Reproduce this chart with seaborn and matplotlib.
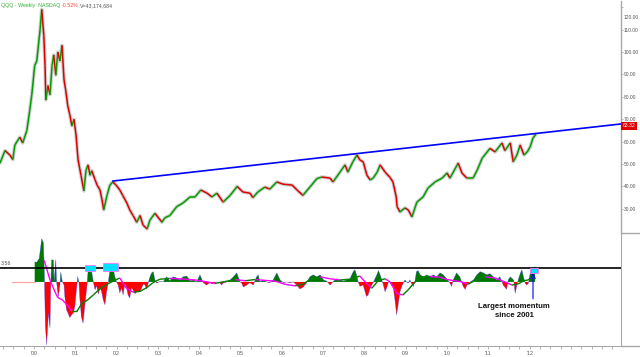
import numpy as np
import pandas as pd
import matplotlib
matplotlib.use("Agg")
import matplotlib.pyplot as plt
import seaborn as sns
from matplotlib.collections import LineCollection
from matplotlib.patches import Rectangle
from matplotlib.lines import Line2D

# QQQ weekly closes, sampled off the chart (decimal year, price)
price_year = [1999.18, 1999.30, 1999.42, 1999.49, 1999.54, 1999.66, 1999.73, 1999.83, 1999.90, 1999.95,
              2000.02, 2000.07, 2000.15, 2000.19, 2000.24, 2000.27, 2000.29, 2000.34, 2000.39, 2000.44,
              2000.48, 2000.53, 2000.58, 2000.63, 2000.68, 2000.73, 2000.77, 2000.82, 2000.87, 2000.92, 2000.97,
              2001.02, 2001.07, 2001.14, 2001.21, 2001.26, 2001.31, 2001.36, 2001.40, 2001.48, 2001.53,
              2001.60, 2001.65, 2001.69, 2001.77, 2001.84, 2001.91, 2001.99,
              2002.08, 2002.15, 2002.25, 2002.32, 2002.40, 2002.49, 2002.57, 2002.64, 2002.74, 2002.81, 2002.93,
              2003.10, 2003.17, 2003.29, 2003.46, 2003.61, 2003.78, 2003.90,
              2004.04, 2004.19, 2004.31, 2004.43, 2004.58, 2004.75, 2004.92,
              2005.06, 2005.23, 2005.30, 2005.42, 2005.59, 2005.71, 2005.88,
              2006.03, 2006.25, 2006.37, 2006.51, 2006.68, 2006.85, 2006.97,
              2007.17, 2007.24, 2007.41, 2007.53, 2007.60, 2007.72, 2007.82, 2007.89, 2007.97,
              2008.06, 2008.14, 2008.21, 2008.31, 2008.38, 2008.50, 2008.62, 2008.69, 2008.77, 2008.79, 2008.86, 2008.98,
              2009.06, 2009.15, 2009.27, 2009.42, 2009.54, 2009.71, 2009.88,
              2010.00, 2010.07, 2010.27, 2010.36, 2010.48, 2010.63, 2010.73, 2010.85,
              2011.04, 2011.16, 2011.33, 2011.40, 2011.53, 2011.60, 2011.69, 2011.77, 2011.86, 2011.94,
              2012.01, 2012.08, 2012.15]
price_close = [50.4, 56, 54, 52, 58.5, 62, 59.4, 65, 74, 81,
               94, 96, 110, 119, 107.5, 94, 78.6, 85, 81, 94,
               98.7, 89.7, 100, 96, 103, 87.5, 83, 76, 72, 67, 70,
               63, 51.8, 45, 38, 47, 49.6, 45, 47, 43, 40.6,
               38.4, 34, 29.5, 36, 40.6, 42, 40.6,
               38.4, 36, 32.6, 29.5, 27, 24, 27, 22.8, 21, 25, 28,
               24, 26, 27, 31, 32.6, 35.3, 35.3,
               38.4, 37, 35.3, 37, 33, 36, 40,
               37.5, 37, 35, 37.5, 39.7, 38.8, 42,
               41, 40.6, 38.4, 36, 39.7, 43.5, 44.2,
               43.7, 42, 46.4, 49.6, 46.4, 51, 54, 51.8, 51,
               45, 42.9, 43.7, 46.4, 49.6, 46.4, 44, 42, 35.3, 31, 28.6, 30.4,
               29.5, 26.4, 33, 35.3, 39.3, 42, 43.7,
               46, 43.7, 50.4, 46, 43.7, 43.7, 47.3, 52.6,
               57, 55.4, 59.4, 56, 59.4, 51, 54, 58.5, 54, 55.4,
               57.6, 61.6, 63.32]

# resistance trendline (start at the early-2002 high, running to the right edge)
trend_year = [2001.91, 2014.21]
trend_price = [42.4, 67.9]

# momentum oscillator
mom_year = [2000.02, 2000.07, 2000.13, 2000.19, 2000.23, 2000.25, 2000.28, 2000.31, 2000.35, 2000.39,
            2000.41, 2000.43, 2000.47, 2000.49, 2000.53, 2000.55, 2000.59, 2000.63, 2000.65, 2000.69,
            2000.73, 2000.75, 2000.79, 2000.83, 2000.87, 2000.91, 2000.95, 2000.99, 2001.03, 2001.06,
            2001.09, 2001.11, 2001.15, 2001.19, 2001.23, 2001.28, 2001.31, 2001.36, 2001.40, 2001.44,
            2001.48, 2001.52, 2001.56, 2001.60, 2001.64, 2001.68, 2001.72, 2001.76, 2001.80, 2001.84,
            2001.88, 2001.92, 2001.96, 2002.00, 2002.04, 2002.08, 2002.12, 2002.16, 2002.20, 2002.24,
            2002.28, 2002.32, 2002.36, 2002.40, 2002.45, 2002.49, 2002.57, 2002.65, 2002.69, 2002.73,
            2002.77, 2002.81, 2002.85, 2002.89, 2002.93, 2002.97, 2003.05, 2003.13, 2003.21, 2003.29,
            2003.37, 2003.46, 2003.54, 2003.61, 2003.70, 2003.78, 2003.86, 2003.94, 2004.02, 2004.10,
            2004.18, 2004.26, 2004.34, 2004.42, 2004.50, 2004.54, 2004.58, 2004.67, 2004.75, 2004.83,
            2004.91, 2004.99, 2005.03, 2005.07, 2005.15, 2005.23, 2005.31, 2005.39, 2005.43, 2005.47,
            2005.55, 2005.63, 2005.71, 2005.79, 2005.88, 2005.96, 2006.04, 2006.12, 2006.20, 2006.28,
            2006.36, 2006.44, 2006.52, 2006.60, 2006.68, 2006.76, 2006.85, 2006.93, 2007.01, 2007.09,
            2007.17, 2007.25, 2007.33, 2007.41, 2007.49, 2007.57, 2007.65, 2007.73, 2007.77, 2007.81,
            2007.85, 2007.89, 2007.97, 2008.05, 2008.09, 2008.14, 2008.22, 2008.30, 2008.34, 2008.38,
            2008.42, 2008.46, 2008.50, 2008.54, 2008.58, 2008.62, 2008.70, 2008.74, 2008.78, 2008.82,
            2008.86, 2008.90, 2008.94, 2008.98, 2009.02, 2009.06, 2009.10, 2009.18, 2009.22, 2009.26,
            2009.30, 2009.35, 2009.43, 2009.51, 2009.59, 2009.67, 2009.75, 2009.83, 2009.91, 2009.99,
            2010.07, 2010.11, 2010.15, 2010.23, 2010.31, 2010.39, 2010.44, 2010.48, 2010.56, 2010.64,
            2010.72, 2010.80, 2010.88, 2010.96, 2011.04, 2011.12, 2011.20, 2011.28, 2011.36, 2011.44,
            2011.48, 2011.53, 2011.61, 2011.65, 2011.69, 2011.73, 2011.77, 2011.81, 2011.85, 2011.89,
            2011.93, 2011.97, 2012.01, 2012.05, 2012.09, 2012.13]
mom_value = [5.1, 5.0, 6.0, 11.0, 10.0, 3.5, -11.4, -16.0, -7.9, -11.7,
             -0.3, 5.6, 5.6, 0.0, 5.7, 0.0, -3.8, -0.8, 2.5, 0.0,
             -0.8, -3.8, -7.1, -8.0, -9.1, -8.4, -8.0, -6.3, -2.0, 1.3,
             0.0, -3.8, -8.9, -10.5, -6.3, -1.5, 2.5, 3.8, 2.5, 0.0,
             -2.0, -1.0, -3.1, -1.5, -2.5, -4.6, -5.8, -2.5, 0.0, 2.8,
             4.3, 3.5, 1.3, 0.0, -0.8, -2.8, -1.5, -3.3, -0.5, -1.3,
             -3.3, -4.1, -1.5, -2.0, -3.0, -2.5, -2.5, -0.5, -0.8, -1.8,
             -0.2, 1.3, 2.3, 2.6, 0.5, -0.3, 0.1, 0.0, 1.3, 0.3,
             1.3, 1.0, 0.5, 1.3, 1.5, 0.3, 0.5, 0.0, 1.8, -0.2,
             -0.8, -0.2, -0.5, 0.0, -0.2, -0.8, -0.3, 0.0, 0.5, 1.3,
             2.3, 0.0, -0.3, -1.3, -0.8, -0.2, -0.8, 1.3, 1.8, 0.0,
             0.5, 0.0, -0.2, 0.5, 2.3, 0.5, -0.2, 0.0, -0.2, 0.0,
             -0.8, -1.8, -1.3, -0.2, 1.3, 1.8, 1.3, 1.8, 0.5, 0.2,
             -0.8, 0.2, 0.8, 0.5, 0.2, 0.5, 0.8, 2.6, 3.1, 1.8,
             0.0, -1.1, -0.8, -3.7, -3.3, -1.5, 0.0, 1.8, 2.9, 1.8,
             0.5, -0.8, -2.5, -1.5, 0.0, 0.0, -1.5, -4.6, -8.4, -5.5,
             -2.5, -1.2, -0.3, 0.5, 0.0, -0.3, 0.5, -1.2, 0.0, 2.6,
             2.9, 1.8, 1.3, 1.8, 1.3, 1.8, 1.3, 2.3, 1.8, 0.8,
             -0.3, -1.1, 0.5, 2.3, 1.3, -1.1, -1.9, -0.8, 0.0, 0.5,
             1.8, 2.6, 2.3, 1.8, 2.1, 1.3, 0.5, 1.3, -0.8, -1.9,
             0.5, 1.3, 0.5, -2.9, -0.8, 0.8, 2.1, 3.1, 1.3, -0.3,
             -0.8, -0.3, 2.1, 3.6, 3.3, 3.9]

# smoothed signal line of the oscillator
sig_year = [2000.25, 2000.39, 2000.51, 2000.58, 2000.68, 2000.82, 2000.92, 2001.04, 2001.16, 2001.31,
            2001.45, 2001.60, 2001.77, 2001.94, 2002.08, 2002.23, 2002.40, 2002.57, 2002.74, 2002.88,
            2003.05, 2003.29, 2003.66, 2003.90, 2004.14, 2004.38, 2004.62, 2004.87, 2005.11, 2005.35,
            2005.59, 2005.84, 2006.08, 2006.32, 2006.51, 2006.68, 2006.93, 2007.17, 2007.41, 2007.65,
            2007.89, 2008.06, 2008.18, 2008.33, 2008.50, 2008.62, 2008.79, 2008.93, 2009.06, 2009.18,
            2009.35, 2009.59, 2009.83, 2010.00, 2010.19, 2010.36, 2010.51, 2010.68, 2010.92, 2011.16,
            2011.40, 2011.57, 2011.72, 2011.86, 2011.96, 2012.11]
sig_value = [5.5, 0.5, -2.5, -4.0, -4.5, -6.0, -7.5, -7.5, -5.5, -4.5,
             -3.2, -1.7, -0.6, 0.3, 1.0, -1.5, -2.6, -2.4, -1.4, -0.2,
             0.7, 0.9, 0.7, 0.5, 0.1, -0.4, 0.1, 0.6, 0.3, 0.6,
             0.4, 0.2, -0.6, -1.0, -0.6, 0.6, 1.3, 0.8, 0.5, 0.7,
             1.5, -0.5, -1.6, 0.3, 0.8, 0.0, -3.0, -3.3, -2.0, -0.5,
             1.2, 1.4, 1.2, 0.6, 0.3, 0.0, -0.6, 0.4, 1.3, 1.0,
             0.0, -0.8, -0.5, 0.3, 0.5, 1.6]

pre_year = [1999.47, 2000.02]   # flat zero stretch before the oscillator starts

threshold = 3.56
box_start = [2001.23, 2001.67, 2012.01]
box_end = [2001.48, 2002.03, 2012.20]
box_low = [2.8, 2.8, 2.3]
box_high = [4.3, 4.8, 3.56]

last_price = 63.32
price_ticks = [30, 40, 50, 60, 70, 80, 90, 100, 110, 120]
year_ticks = list(range(2000, 2013))
year_labels = ["'%02d" % (y % 100) for y in year_ticks]

UP = "#00a000"
DOWN = "#e00000"
GRID = "#a8a8a8"
TXT = "#555555"
FS = 3.5

sns.set_style("white")
plt.rcParams['font.family'] = ['Liberation Sans', 'DejaVu Sans']

W, H = 640, 357
fig = plt.figure(figsize=(6.4, 3.57), dpi=100)
ax1 = fig.add_axes([0, 1 - 233 / H, 621 / W, 232 / H])
ax2 = fig.add_axes([0, 1 - 346 / H, 621 / W, 113 / H])

xlo, xhi = 1999.18, 2014.21

# ---- price panel ----
df = pd.DataFrame({"year": price_year, "close": price_close})
sns.lineplot(data=df, x="year", y="close", ax=ax1, color="#bdbdbd", lw=2.6,
             alpha=0.7, sort=False, estimator=None)
pts = df[["year", "close"]].to_numpy()
segs = np.stack([pts[:-1], pts[1:]], axis=1)
cols = np.where(np.diff(pts[:, 1]) >= 0, UP, DOWN)
ax1.add_collection(LineCollection(segs, colors=cols, linewidths=1.1, zorder=3))

sns.lineplot(x=trend_year, y=trend_price, ax=ax1, color="#0000ff", lw=1.2, zorder=4)

ax1.set_xlim(xlo, xhi)
ax1.set_ylim(19.2, 122.8)
ax1.set_xticks([])
ax1.set_xlabel("")
ax1.set_ylabel("")
ax1.yaxis.tick_right()
ax1.set_yticks(price_ticks)
# top label is nudged down by the charting package, drawn separately below
ax1.set_yticklabels(["%.2f" % t for t in price_ticks[:-1]] + [""])
ax1.tick_params(axis="y", labelsize=FS, labelcolor=TXT, color=GRID, length=1.5,
                width=0.6, pad=0.6, right=True)
ax1.annotate("%.2f" % price_ticks[-1], xy=(1, price_ticks[-1]),
             xycoords=("axes fraction", "data"), xytext=(1.6, -7.2),
             textcoords="offset points", ha="left", va="center",
             fontsize=FS, color=TXT)
for s in ["top", "left", "bottom"]:
    ax1.spines[s].set_visible(False)
ax1.spines["right"].set_color(GRID)
ax1.spines["right"].set_linewidth(1.0)

ax1.annotate("%.2f" % last_price, xy=(1, 67.0), xycoords=("axes fraction", "data"),
             xytext=(1.0, 0), textcoords="offset points", ha="left", va="center",
             fontsize=3.7, color="white",
             bbox=dict(boxstyle="square,pad=0.25", fc="#e00000", ec="none"))

# header
ty = 1 - 5.5 / H
fig.text(1 / W, ty, "QQQ - Weekly  NASDAQ", fontsize=3.8, color="#33b033", va="center")
fig.text(62 / W, ty, "-0.52%", fontsize=3.8, color="#ff4040", va="center")
fig.text(80 / W, ty, "V=43,174,684", fontsize=3.8, color=TXT, va="center")

# ---- oscillator panel ----
mv = np.array(mom_value)
ax2.fill_between(mom_year, mv, 0, where=mv >= 0, interpolate=True, color="#007800", lw=0)
ax2.fill_between(mom_year, mv, 0, where=mv <= 0, interpolate=True, color="#ff0000", lw=0)
ax2.plot(mom_year, mv, color="#3030ff", lw=0.35, alpha=0.6)
ax2.plot(pre_year, [0, 0], color="#ffa0a0", lw=0.8)

sp = np.column_stack([sig_year, sig_value])
sseg = np.stack([sp[:-1], sp[1:]], axis=1)
scol = np.where(np.diff(sp[:, 1]) >= 0, "#008000", "#ff00ff")
ax2.add_collection(LineCollection(sseg, colors=scol, linewidths=1.0, zorder=3))

ax2.axhline(threshold, color="black", lw=1.2, zorder=4)
ax2.text(1 / W * (xhi - xlo) + xlo, threshold + 0.4, "%.2f" % threshold,
         fontsize=3.8, color=TXT, va="bottom", ha="left")

for b0, b1, lo, hi in zip(box_start, box_end, box_low, box_high):
    ax2.add_patch(Rectangle((b0, lo), b1 - b0, hi - lo, fc="#00e0ff", ec="#ff70ff",
                            lw=0.6, zorder=5))

ax2.annotate("", xy=(2012.08, 3.0), xytext=(2012.08, -5.0),
             arrowprops=dict(arrowstyle="->", color="#0000ff", lw=0.8,
                             mutation_scale=8))
ax2.text(2011.62, -7.4, "Largest momentum\nsince 2001", fontsize=5.6, fontweight="bold",
         ha="center", va="center", linespacing=1.35, color="#111111")

ax2.set_xlim(xlo, xhi)
ax2.set_ylim(-16.3, 12.45)
ax2.set_yticks([])
ax2.set_xticks(year_ticks)
ax2.set_xticklabels(year_labels)
ax2.set_xticks(np.arange(1999.25, 2014.2, 0.25), minor=True)
ax2.tick_params(axis="x", which="both", bottom=True, length=2.5, width=0.6, color=GRID,
                labelsize=3.8, labelcolor=TXT, pad=1)
for s in ["top", "left"]:
    ax2.spines[s].set_visible(False)
ax2.spines["right"].set_color(GRID)
ax2.spines["bottom"].set_color(GRID)

# gutter separators
fig.add_artist(Line2D([621 / W, 1], [1 - 233 / H] * 2, color=GRID, lw=1.0))
fig.add_artist(Line2D([621 / W, 1], [1 - 346 / H] * 2, color=GRID, lw=1.0))

fig.savefig("out.png", dpi=100)
